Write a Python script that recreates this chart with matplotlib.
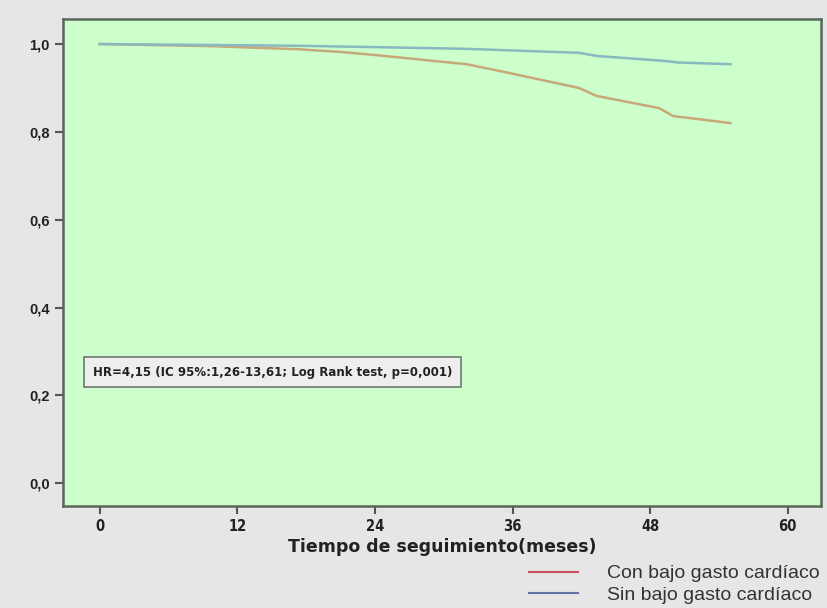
import matplotlib.pyplot as plt
from matplotlib.lines import Line2D

# curvas de supervivencia
meses_con = [0, 10, 17.4, 21, 24, 32, 35, 41.8, 43.3, 48.8, 50, 55]
surv_con = [1.0, 0.995, 0.988, 0.982, 0.975, 0.954, 0.938, 0.900, 0.882, 0.854, 0.836, 0.820]

meses_sin = [0, 17.4, 26, 32, 41.8, 43.3, 49.5, 50.4, 55]
surv_sin = [1.0, 0.996, 0.992, 0.989, 0.980, 0.973, 0.961, 0.958, 0.954]

xticks = [0, 12, 24, 36, 48, 60]
yticks = [0.0, 0.2, 0.4, 0.6, 0.8, 1.0]
ylabels = ["0,0", "0,2", "0,4", "0,6", "0,8", "1,0"]
series = ["Con bajo gasto cardíaco", "Sin bajo gasto cardíaco"]
hr_text = "HR=4,15 (IC 95%:1,26-13,61; Log Rank test, p=0,001)"

plt.rcParams['font.family'] = ['Liberation Sans', 'DejaVu Sans']

fig = plt.figure(figsize=(8.27, 6.08), dpi=100, facecolor="#e6e6e6")
ax = fig.add_axes([63 / 827, 102 / 608, 758 / 827, 487 / 608])
ax.set_facecolor("#ccffcc")

ax.plot(meses_con, surv_con, color="#c8a878", lw=1.8)
ax.plot(meses_sin, surv_sin, color="#88b8c0", lw=1.8)

ax.set_xlim(-3.2, 62.9)
ax.set_ylim(-0.052, 1.057)
ax.set_xticks(xticks)
ax.set_xticklabels([str(t) for t in xticks], fontweight="bold", fontsize=10.5,
                   family="DejaVu Sans", stretch="condensed")
ax.set_yticks(yticks)
ax.set_yticklabels(ylabels, fontweight="bold", fontsize=10.5)
ax.tick_params(direction="out", length=6, width=1.5, color="#505a50", labelcolor="#222222")
for s in ax.spines.values():
    s.set_color("#5a665a")
    s.set_linewidth(1.8)

ax.set_xlabel("Tiempo de seguimiento(meses)", fontweight="bold", fontsize=12.5,
              family="DejaVu Sans", labelpad=3, color="#222222")

ax.text(-0.6, 0.253, hr_text, fontsize=8.5, fontweight="bold", va="center", color="#222222",
        family="DejaVu Sans",
        bbox=dict(boxstyle="square,pad=0.75", facecolor="#eeeeee", edgecolor="#707870", lw=1.2))

handles = [Line2D([], [], color="#d05060", lw=1.5), Line2D([], [], color="#6070a0", lw=1.5)]
fig.legend(handles, series, loc="lower right", bbox_to_anchor=(1.012, -0.022), frameon=False,
           fontsize=14, handlelength=2.5, handletextpad=1.5, labelcolor="#333333",
           labelspacing=0.2)

fig.savefig("out.png", dpi=100, facecolor=fig.get_facecolor())
